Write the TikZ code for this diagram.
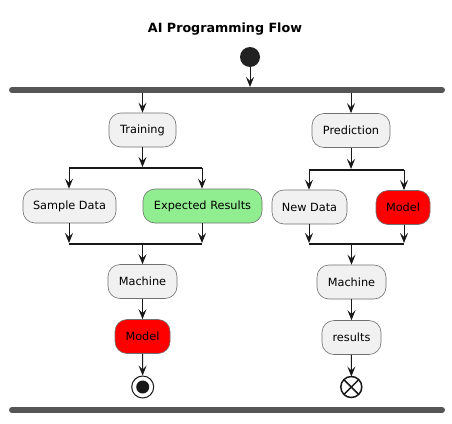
\documentclass[tikz,border=0pt]{standalone}
\usepackage{fontspec}
\setmainfont{DejaVu Sans}
\usetikzlibrary{arrows.meta}
\definecolor{boxfill}{HTML}{F1F1F1}
\definecolor{boxborder}{HTML}{707070}
\definecolor{boxline}{HTML}{181818}
\definecolor{barcol}{HTML}{555555}
\definecolor{startcol}{HTML}{222222}
\definecolor{lgreen}{HTML}{90EE90}
\definecolor{mred}{HTML}{FF0000}
\begin{document}
\begin{tikzpicture}[x=1pt,y=-1pt,
  act/.style={draw=boxborder, line width=0.6pt, fill=boxfill, rounded corners=12pt,
    inner sep=0pt, minimum height=34pt, font=\fontsize{11.3}{13}\selectfont, text=black},
  arr/.style={draw=boxline, line width=1pt, -{Stealth[length=10pt,width=8pt,inset=4pt]}},
  bigbar/.style={line width=6pt, draw=barcol, line cap=round},
  smallbar/.style={line width=2pt, draw=boxline}]
\useasboundingbox (0,0) rectangle (452,423);
\node[font=\fontsize{12.7}{15}\selectfont\bfseries] (title) at (225,29) {AI Programming Flow};
\node[circle, fill=startcol, minimum size=20pt, inner sep=0pt] (start) at (250,57) {};
% top fork bar
\coordinate (ftL) at (12,90);
\coordinate (ftR) at (442,90);
\draw[bigbar] (ftL) -- (ftR);
% left branch
\node[act, minimum width=67pt] (train) at (142.5,130) {Training};
\coordinate (fk1L) at (69,168);
\coordinate (fk1R) at (202,168);
\node[act, minimum width=93pt] (sample) at (69.5,206) {Sample Data};
\node[act, fill=lgreen, minimum width=119pt] (expect) at (202.5,206) {Expected Results};
\coordinate (jn1L) at (69,244);
\coordinate (jn1R) at (202,244);
\node[act, minimum width=69pt] (mach1) at (142.5,281.5) {Machine};
\node[act, fill=mred, minimum width=55pt] (model1) at (142.5,336.5) {Model};
\node[circle, draw=boxline, line width=1pt, fill=white, minimum size=22pt, inner sep=0pt] (stop) at (142.7,387) {};
\node[circle, fill=boxline, minimum size=13pt, inner sep=0pt] (stopdot) at (stop.center) {};
% right branch
\node[act, minimum width=78pt] (pred) at (351,130.5) {Prediction};
\coordinate (fk2L) at (309,170);
\coordinate (fk2R) at (404,170);
\node[act, minimum width=75pt] (newdata) at (309.5,207) {New Data};
\node[act, fill=mred, minimum width=54pt] (model2) at (403,207.5) {Model};
\coordinate (jn2L) at (309,244);
\coordinate (jn2R) at (404,244);
\node[act, minimum width=69pt] (mach2) at (351.5,282) {Machine};
\node[act, minimum width=59pt] (results) at (351.5,337.5) {results};
\node[circle, draw=boxline, line width=1.5pt, fill=white, minimum size=21pt, inner sep=0pt, outer sep=0pt] (fend) at (351.3,387) {};
\draw[boxline, line width=1.5pt] (fend.north west) -- (fend.south east);
\draw[boxline, line width=1.5pt] (fend.north east) -- (fend.south west);
% bottom bar
\coordinate (fbL) at (12,410);
\coordinate (fbR) at (442,410);
\draw[bigbar] (fbL) -- (fbR);
% small bars
\draw[smallbar] (fk1L) -- (fk1R);
\draw[smallbar] (jn1L) -- (jn1R);
\draw[smallbar] (fk2L) -- (fk2R);
\draw[smallbar] (jn2L) -- (jn2R);
% connectors
\draw[arr, shorten >=3pt] (start) -- (start |- ftL);
\draw[arr] (train |- ftL) ++(0,3) -- (train);
\draw[arr] (pred |- ftL) ++(0,3) -- (pred);
\draw[arr, shorten >=1pt] (train) -- (train |- fk1L);
\draw[arr] (fk1L) -- (sample.north -| fk1L);
\draw[arr] (fk1R) -- (expect.north -| fk1R);
\draw[arr, shorten >=1pt] (sample.south -| jn1L) -- (jn1L);
\draw[arr, shorten >=1pt] (expect.south -| jn1R) -- (jn1R);
\draw[arr] (mach1 |- jn1L) -- (mach1);
\draw[arr] (mach1) -- (model1);
\draw[arr] (model1) -- (stop);
\draw[arr, shorten >=1pt] (pred) -- (pred |- fk2L);
\draw[arr] (fk2L) -- (newdata.north -| fk2L);
\draw[arr] (fk2R) -- (model2.north -| fk2R);
\draw[arr, shorten >=1pt] (newdata.south -| jn2L) -- (jn2L);
\draw[arr, shorten >=1pt] (model2.south -| jn2R) -- (jn2R);
\draw[arr] (mach2 |- jn2L) -- (mach2);
\draw[arr] (mach2) -- (results);
\draw[arr] (results) -- (fend);
\end{tikzpicture}
\end{document}
